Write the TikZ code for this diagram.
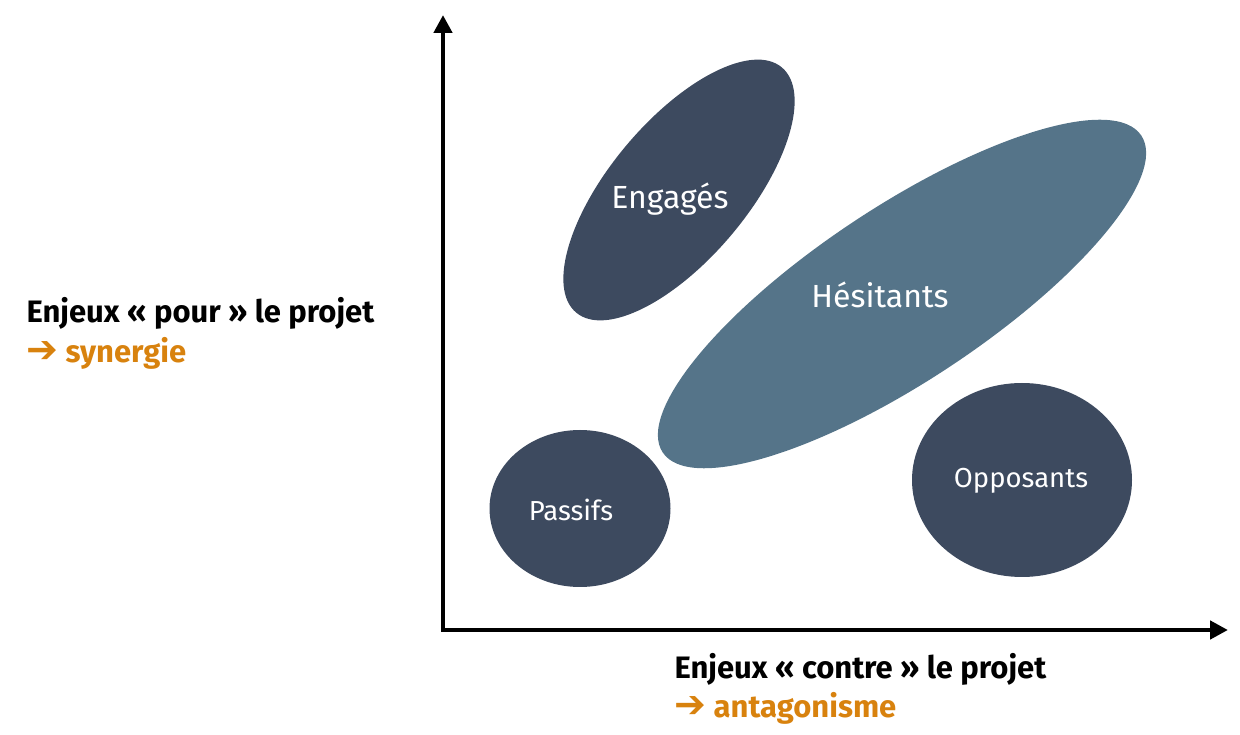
\documentclass[tikz,border=0pt]{standalone}
\usepackage{fontspec}
\setmainfont{Fira Sans}
\newfontfamily\symb{DejaVu Sans}
\usetikzlibrary{arrows.meta, positioning, shapes.geometric}
\definecolor{ardoise}{HTML}{3D4A5F}
\definecolor{acier}{HTML}{557489}
\definecolor{ocre}{HTML}{D8820E}
\newcommand{\fleche}{{\symb\bfseries\fontsize{38}{38}\selectfont ➔}}

\begin{document}
\begin{tikzpicture}[x=1pt, y=1pt,
    groupe/.style={ellipse, fill=ardoise, inner sep=0pt},
    etiq/.style={text=white, font=\fontsize{32}{38}\selectfont},
    petite/.style={etiq, font=\fontsize{27.5}{33}\selectfont},
    axe/.style={line width=4.5pt, line join=miter,
      {Triangle[length=18pt,width=18pt]}-{Triangle[length=18pt,width=18pt]}},
    titre/.style={anchor=base west, font=\fontsize{31}{37}\selectfont\bfseries}]
    \useasboundingbox (0,0) rectangle (1240,734);
    % axes
    \coordinate (origine) at (443,104);
    \coordinate (haut) at (443,719);
    \coordinate (droite) at (1228,104);
    \draw[axe] (haut) -- (origine) -- (droite);
    % groupes d'acteurs
    \node[groupe, minimum width=320pt, minimum height=138pt, rotate=50] (engages) at (679,544) {};
    \node[groupe, fill=acier, minimum width=574pt, minimum height=174pt, rotate=33.5] (hesitants) at (902,440) {};
    \node[groupe, minimum width=181pt, minimum height=157pt] (passifs) at (580,225.5) {};
    \node[groupe, minimum width=220pt, minimum height=194pt] (opposants) at (1022,254) {};
    \node[etiq] (lengages) at (670,535) {Engagés};
    \node[etiq] (lhesitants) at (880,439) {Hésitants};
    \node[petite] (lpassifs) at (571,224) {Passifs};
    \node[petite] (lopposants) at (1021,253) {Opposants};
    % legendes des axes
    \node[titre] (pour) at (23,411) {Enjeux « pour » le projet};
    \node[titre, text=ocre] (synergie) at ([yshift=-40pt]pour.base west) {\fleche\ synergie};
    \node[titre] (contre) at (671,56) {Enjeux « contre » le projet};
    \node[titre, text=ocre] (antago) at ([yshift=-39pt]contre.base west) {\fleche\ antagonisme};
  \end{tikzpicture}
\end{document}
